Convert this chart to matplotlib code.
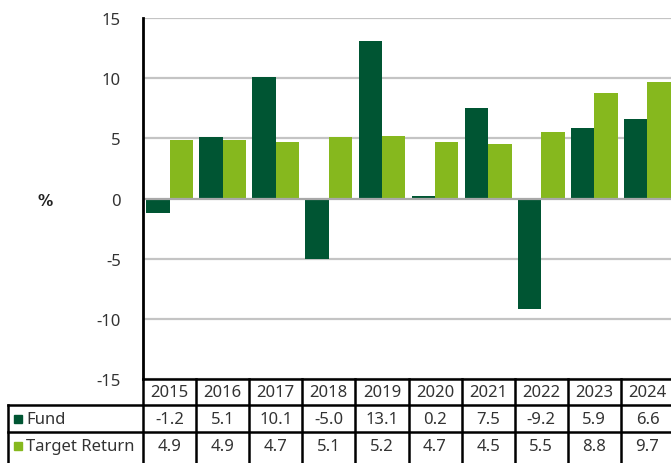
import matplotlib
matplotlib.use("Agg")
import matplotlib.pyplot as plt
import numpy as np
from matplotlib.transforms import blended_transform_factory

years = ["2015", "2016", "2017", "2018", "2019", "2020", "2021", "2022", "2023", "2024"]
fund = [-1.2, 5.1, 10.1, -5.0, 13.1, 0.2, 7.5, -9.2, 5.9, 6.6]
target = [4.9, 4.9, 4.7, 5.1, 5.2, 4.7, 4.5, 5.5, 8.8, 9.7]
series_names = ["Fund", "Target Return"]
yticks = [-15, -10, -5, 0, 5, 10, 15]

c_fund = "#005533"
c_target = "#86b81e"
txt = "#333333"

W, H = 671, 464
fig = plt.figure(figsize=(W / 100, H / 100), dpi=100)
plt.rcParams['font.family'] = ['Noto Sans', 'DejaVu Sans']

left_px, top_px, bottom_px = 143, 19, 380
pitch = 53.1
ax = fig.add_axes([left_px / W, (H - bottom_px) / H, (W - left_px) / W, (bottom_px - top_px) / H])
x = np.arange(len(years))
bw = 0.44
ax.bar(x - bw / 2, fund, width=bw, color=c_fund, zorder=3)
ax.bar(x + bw / 2, target, width=bw, color=c_target, zorder=3)
ax.set_xlim(-0.5, -0.5 + (W - left_px) / pitch)
ax.set_ylim(-15, 15)
ax.set_yticks(yticks)
ax.set_yticklabels([str(t) for t in yticks], fontsize=12, color=txt)
ax.tick_params(axis='y', length=0, pad=16)
ax.set_xticks([])
for t in yticks:
    ax.axhline(t, color="#a8a8a8" if t == 0 else "#c4c4c4", lw=1.6, zorder=2 if t != 0 else 4)
for s in ["top", "right", "bottom"]:
    ax.spines[s].set_visible(False)
ax.spines["left"].set_linewidth(2)
ax.spines["left"].set_color("black")
ax.spines["left"].set_zorder(5)

fig.text(45 / W, 1 - 201 / H, "%", fontsize=11, fontweight="bold", family="DejaVu Sans",
         color="#222222", ha="center", va="center")

# table
tr = blended_transform_factory(ax.transData, fig.transFigure)
fy = lambda py: 1 - py / H
row_y = [380, 406, 433, 470]
lw = 1.8
n = len(years)
xr = -0.5 + (W - left_px) / pitch + 1
ax.plot([-0.5, xr], [fy(380)] * 2, transform=tr, color="black", lw=lw, clip_on=False)
for py in row_y[1:3]:
    fig.add_artist(plt.Line2D([8 / W, 1.0], [fy(py)] * 2, color="black", lw=lw))
for k in range(n + 1):
    ax.plot([k - 0.5, k - 0.5], [fy(380), fy(470)], transform=tr, color="black", lw=lw, clip_on=False)
fig.add_artist(plt.Line2D([8 / W, 8 / W], [fy(406), fy(470)], color="black", lw=lw))

for i, yv in enumerate(years):
    ax.text(i, fy(393.5), yv, transform=tr, ha="center", va="center", fontsize=12, color=txt, clip_on=False)
    ax.text(i, fy(420), f"{fund[i]:.1f}", transform=tr, ha="center", va="center", fontsize=12, color=txt, clip_on=False)
    ax.text(i, fy(447), f"{target[i]:.1f}", transform=tr, ha="center", va="center", fontsize=12, color=txt, clip_on=False)

for name, col, py in [(series_names[0], c_fund, 420), (series_names[1], c_target, 447)]:
    fig.add_artist(plt.Rectangle((14 / W, fy(py + 4)), 8 / W, 8 / H, color=col, transform=fig.transFigure))
    fig.text(26 / W, fy(py), name, fontsize=12, color=txt, ha="left", va="center")

fig.savefig("out.png", dpi=100)
